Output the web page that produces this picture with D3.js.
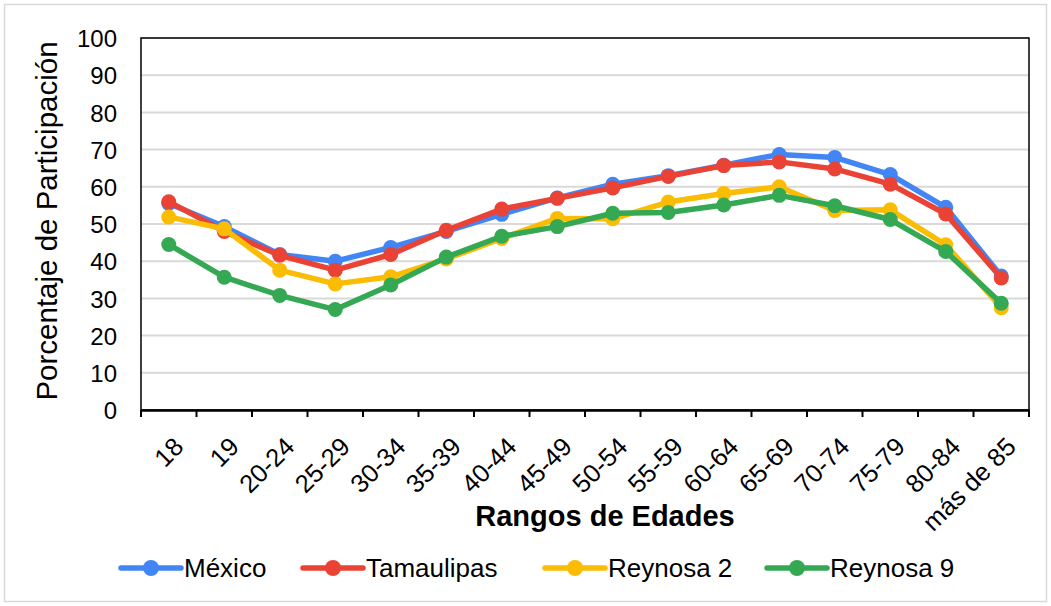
<!DOCTYPE html>
<html><head><meta charset="utf-8">
<script src="https://cdn.jsdelivr.net/npm/d3@7"></script>
<style>body{margin:0;background:#fff;} text{font-family:"Liberation Sans",Arial,sans-serif;fill:#000;}</style>
</head><body>
<svg id="c" width="1051" height="606"></svg>
<script>
const categories = ["18","19","20-24","25-29","30-34","35-39","40-44","45-49","50-54","55-59","60-64","65-69","70-74","75-79","80-84","más de 85"];
const mexico     = [55.5,49.3,41.8,40.0,43.7,48.0,52.6,57.0,60.7,63.0,65.8,68.7,67.9,63.3,54.5,36.0];
const tamaulipas = [56.0,48.0,41.6,37.6,41.8,48.3,54.0,56.9,59.7,62.8,65.7,66.7,64.8,60.7,52.7,35.5];
const reynosa2   = [51.9,48.7,37.6,33.9,35.8,40.6,46.1,51.5,51.4,55.9,58.2,60.0,53.6,53.8,44.4,27.5];
const reynosa9   = [44.5,35.7,30.8,27.0,33.6,41.1,46.7,49.3,52.9,53.1,55.1,57.7,54.9,51.2,42.6,28.7];
const seriesNames = ["México","Tamaulipas","Reynosa 2","Reynosa 9"];
const yTicks = [0,10,20,30,40,50,60,70,80,90,100];

const series = [
  {name: seriesNames[0], values: mexico, color: "#4285F4"},
  {name: seriesNames[1], values: tamaulipas, color: "#EA4335"},
  {name: seriesNames[2], values: reynosa2, color: "#FBBC04"},
  {name: seriesNames[3], values: reynosa9, color: "#34A853"}
];

const svg = d3.select("#c");
svg.append("rect").attr("x",4.5).attr("y",4.5).attr("width",1042).attr("height",597)
  .attr("fill","#fff").attr("stroke","#d9d9d9").attr("stroke-width",1.5);

const L = 141, R = 1029, T = 38, B = 410;
const x = d3.scaleBand().domain(categories).range([L, R]).padding(0);
const y = d3.scaleLinear().domain([0,100]).range([B, T]);

// gridlines
svg.append("g").selectAll("line").data(yTicks.filter(d=>d>0)).join("line")
  .attr("x1",L).attr("x2",R).attr("y1",d=>y(d)).attr("y2",d=>y(d))
  .attr("stroke","#d9d9d9").attr("stroke-width",2);

// plot border
svg.append("rect").attr("x",L).attr("y",T).attr("width",R-L).attr("height",B-T)
  .attr("fill","none").attr("stroke","#000").attr("stroke-width",1.5);

// y axis labels
const yAxis = d3.axisLeft(y).tickValues(yTicks).tickSize(0).tickPadding(0);
const gy = svg.append("g").attr("transform",`translate(${L-24},0)`).call(yAxis);
gy.select(".domain").remove();
gy.selectAll("text").attr("font-size",24).attr("font-family","Liberation Sans, Arial, sans-serif").attr("fill","#000").attr("dy","0.36em");

// x axis
const xAxis = d3.axisBottom(x).tickSize(0).tickFormat("");
const gx = svg.append("g").attr("transform",`translate(0,${B})`).call(xAxis);
gx.select(".domain").attr("stroke","#000").attr("stroke-width",2.5);
gx.selectAll(".tick").remove();
const boundaries = categories.map(c=>x(c)).concat([R]);
gx.selectAll("line.tk").data(boundaries).join("line").attr("class","tk")
  .attr("x1",d=>d).attr("x2",d=>d).attr("y1",0).attr("y2",7).attr("stroke","#000").attr("stroke-width",2);

svg.append("g").selectAll("text").data(categories).join("text")
  .attr("transform",d=>`translate(${x(d)+x.bandwidth()/2+10},${B+32}) rotate(-45)`)
  .attr("text-anchor","end").attr("dy","0.35em").attr("font-size",25.5).text(d=>d);

// axis titles
svg.append("text").attr("x",605).attr("y",526).attr("text-anchor","middle")
  .attr("font-size",29).attr("font-weight","bold").text("Rangos de Edades");
svg.append("text").attr("transform","translate(57,221) rotate(-90)").attr("text-anchor","middle")
  .attr("font-size",29.5).text("Porcentaje de Participación");

// lines
const line = d3.line().x((d,i)=>x(categories[i])+x.bandwidth()/2).y(d=>y(d));
series.forEach(s=>{
  const g = svg.append("g");
  g.append("path").datum(s.values).attr("d",line).attr("fill","none")
    .attr("stroke",s.color).attr("stroke-width",5.5).attr("stroke-linejoin","round");
  g.selectAll("circle").data(s.values).join("circle")
    .attr("cx",(d,i)=>x(categories[i])+x.bandwidth()/2).attr("cy",d=>y(d))
    .attr("r",7.5).attr("fill",s.color);
});

// legend
const legX = [121, 303, 545, 767];
const lg = svg.append("g");
series.forEach((s,i)=>{
  const g = lg.append("g").attr("transform",`translate(${legX[i]},568)`);
  g.append("line").attr("x1",0).attr("x2",60).attr("y1",0).attr("y2",0)
    .attr("stroke",s.color).attr("stroke-width",5.5).attr("stroke-linecap","round");
  g.append("circle").attr("cx",30).attr("cy",0).attr("r",8).attr("fill",s.color);
  g.append("text").attr("x",63).attr("y",0).attr("dy","0.36em").attr("font-size",26).text(s.name);
});
</script>
</body></html>
